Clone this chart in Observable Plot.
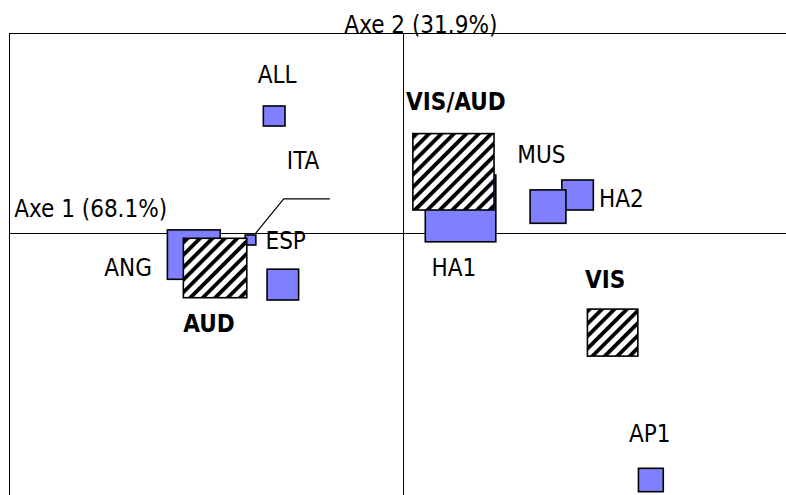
<!DOCTYPE html>
<html><head><meta charset="utf-8">
<script src="https://cdn.jsdelivr.net/npm/d3@7"></script>
<script src="https://cdn.jsdelivr.net/npm/@observablehq/plot@0.6"></script>
<style>body{margin:0;background:#fff} #chart svg{display:block;overflow:visible}</style>
</head><body><div id="chart"></div>
<script>
// Modalités (blue squares): centre on axis 1 / axis 2, box width / height (axis units)
const modNames = ["ALL", "ANG", "ESP", "ITA", "HA1", "HA2", "MUS", "AP1"];
const modX = [-0.327, -0.531, -0.387, -0.305, 0.146, 0.443, 0.368, 0.629];
const modY = [0.585, -0.108, -0.035, -0.258, 0.123, 0.190, 0.132, -1.235];
const modW = [0.055, 0.134, 0.027, 0.080, 0.179, 0.080, 0.091, 0.063];
const modH = [0.100, 0.247, 0.050, 0.154, 0.334, 0.150, 0.167, 0.117];

// Groups (hatched squares)
const grpNames = ["AUD", "VIS/AUD", "VIS"];
const grpX = [-0.477, 0.128, 0.532];
const grpY = [-0.175, 0.306, -0.498];
const grpW = [0.161, 0.206, 0.128];
const grpH = [0.297, 0.382, 0.235];

// Label anchors (text centre, baseline)
const labText = ["ALL", "ITA", "MUS", "HA2", "ESP", "ANG", "HA1", "AP1"];
const labX = [-0.321, -0.255, 0.350, 0.553, -0.299, -0.699, 0.128, 0.625];
const labY = [0.752, 0.324, 0.352, 0.135, -0.077, -0.210, -0.210, -1.044];
const boldText = ["VIS/AUD", "AUD", "VIS"];
const boldX = [0.133, -0.494, 0.512];
const boldY = [0.620, -0.494, -0.272];

// Leader line
const leadX = [-0.375, -0.304, -0.188];
const leadY = [0.0015, 0.1735, 0.1735];

// Axis titles
const axisTitles = ["Axe 1 (68.1%)", "Axe 2 (31.9%)"];
const axisTitleX = [-0.794, 0.044];
const axisTitleY = [0.082, 1.005];

const mods = modNames.map((n, i) => ({n, x: modX[i], y: modY[i], w: modW[i], h: modH[i]}));
const grps = grpNames.map((n, i) => ({n, x: grpX[i], y: grpY[i], w: grpW[i], h: grpH[i]}));
const labs = labText.map((t, i) => ({t, x: labX[i], y: labY[i]}));
const bolds = boldText.map((t, i) => ({t, x: boldX[i], y: boldY[i]}));
const lead = leadX.map((x, i) => ({x, y: leadY[i]}));
const titles = axisTitles.map((t, i) => ({t, x: axisTitleX[i], y: axisTitleY[i]}));

const font = "'DejaVu Sans Condensed', 'DejaVu Sans', sans-serif";

const plot = Plot.plot({
  width: 786, height: 495,
  marginLeft: 9, marginRight: 0, marginTop: 33, marginBottom: 0,
  x: {domain: [-1, 0.972], axis: null},
  y: {domain: [-1.31, 1], axis: null},
  style: {fontFamily: font, fontSize: "24px", fontStretch: "condensed", background: "white", color: "black"},
  marks: [
    Plot.ruleY([1], {stroke: "black", strokeWidth: 1}),
    Plot.ruleX([-1], {stroke: "black", strokeWidth: 1}),
    Plot.ruleX([0], {stroke: "black", strokeWidth: 1}),
    Plot.ruleY([0], {stroke: "black", strokeWidth: 1}),
    Plot.line(lead, {x: "x", y: "y", stroke: "black", strokeWidth: 1.2}),
    Plot.rect(mods, {x1: d => d.x - d.w/2, x2: d => d.x + d.w/2, y1: d => d.y - d.h/2, y2: d => d.y + d.h/2,
      fill: "#8080FF", stroke: "black", strokeWidth: 1.6}),
    Plot.rect(grps, {x1: d => d.x - d.w/2, x2: d => d.x + d.w/2, y1: d => d.y - d.h/2, y2: d => d.y + d.h/2,
      fill: "url(#hatch)", stroke: "black", strokeWidth: 1.6}),
    Plot.text(labs, {x: "x", y: "y", text: "t", textAnchor: "middle", lineAnchor: "bottom", fill: "black", fontSize: 24}),
    Plot.text(bolds, {x: "x", y: "y", text: "t", textAnchor: "middle", lineAnchor: "bottom", fill: "black", fontSize: 24, fontWeight: "bold"}),
    Plot.text(titles, {x: "x", y: "y", text: "t", textAnchor: "middle", lineAnchor: "bottom", fill: "black", fontSize: 24})
  ]
});

const svg = d3.select(plot);
const defs = svg.insert("defs", ":first-child");
const P = 8.8;
const pat = defs.append("pattern").attr("id", "hatch").attr("patternUnits", "userSpaceOnUse")
  .attr("width", P).attr("height", P).attr("patternTransform", "rotate(45)");
pat.append("rect").attr("width", P).attr("height", P).attr("fill", "white");
pat.append("rect").attr("width", 3.8).attr("height", P).attr("fill", "black");

document.getElementById("chart").appendChild(plot);
</script>
</body></html>
